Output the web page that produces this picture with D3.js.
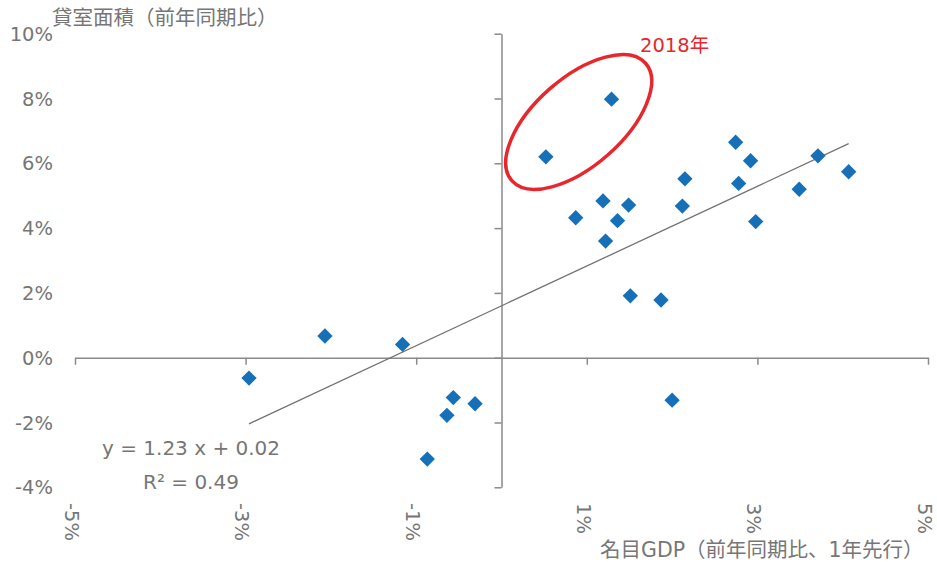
<!DOCTYPE html>
<html>
<head>
<meta charset="utf-8">
<script src="https://cdn.jsdelivr.net/npm/d3@7"></script>
<style>
  html, body { margin: 0; padding: 0; background: #fff; }
  svg { display: block; }
  text { font-family: "DejaVu Sans", "Noto Sans CJK JP", sans-serif; }
</style>
</head>
<body>
<svg id="chart" width="937" height="565"></svg>
<script>
// Nominal GDP growth (YoY, led by one year) vs. leased floor area growth (YoY)
const gdpGrowth = [
  -0.0207, -0.0116, -0.0296, -0.00565, -0.0031, -0.0064, -0.0087,
  0.0129, 0.0052, 0.02745, 0.0292, 0.0371, 0.0407, 0.0215, 0.0278,
  0.0349, 0.0119, 0.0149, 0.0212, 0.0087, 0.0136, 0.0298, 0.0122,
  0.0151, 0.0187, 0.0200
];
const floorAreaGrowth = [
  0.0067, 0.0041, -0.0063, -0.0123, -0.0142, -0.0178, -0.0313,
  0.0798, 0.0620, 0.0665, 0.0608, 0.0623, 0.0574, 0.0552, 0.0538,
  0.0520, 0.0484, 0.0471, 0.0468, 0.0432, 0.0423, 0.0420, 0.0360,
  0.0191, 0.0178, -0.0131
];
// Points highlighted as the 2018 group
const highlight2018 = [7, 8];

const xTicks = [-0.05, -0.03, -0.01, 0.01, 0.03, 0.05];
const yTicks = [-0.04, -0.02, 0, 0.02, 0.04, 0.06, 0.08, 0.10];

// Linear trend fitted to the scatter
const trendSlope = 1.23;
const trendIntercept = 0.016;
const trendR2 = 0.49;

const yTitle = "貸室面積（前年同期比）";
const xTitle = "名目GDP（前年同期比、1年先行）";
const groupLabel = "2018年";

const svg = d3.select("#chart");

const x = d3.scaleLinear().domain([-0.05, 0.05]).range([75, 928]);
const y = d3.scaleLinear().domain([-0.04, 0.10]).range([487.3, 33.7]);

const axisColor = "#8a8a8a";
const textColor = "#767676";
// Percent labels with a plain hyphen for negatives
const pct = d => `${Math.round(d * 100)}%`;

// Horizontal axis through y = 0
const xAxis = svg.append("g")
  .attr("transform", `translate(0,${y(0)})`)
  .call(d3.axisBottom(x).tickValues(xTicks).tickSize(7).tickSizeOuter(0).tickFormat(""));
xAxis.select(".domain").attr("stroke", axisColor).attr("stroke-width", 1.5);
xAxis.selectAll(".tick line").attr("stroke", axisColor).attr("stroke-width", 1.5);

// Vertical axis through x = 0
const yAxis = svg.append("g")
  .attr("transform", `translate(${x(0)},0)`)
  .call(d3.axisLeft(y).tickValues(yTicks).tickSize(7).tickSizeOuter(0).tickFormat(""));
yAxis.select(".domain").attr("stroke", axisColor).attr("stroke-width", 1.5);
yAxis.selectAll(".tick line").attr("stroke", axisColor).attr("stroke-width", 1.5);

// Y tick labels at the left edge
svg.append("g").selectAll("text")
  .data(yTicks)
  .join("text")
  .attr("x", 53)
  .attr("y", d => y(d))
  .attr("dy", "0.36em")
  .attr("text-anchor", "end")
  .attr("font-size", 19.5)
  .attr("fill", textColor)
  .text(d => pct(d));

// X tick labels, rotated, below the plot
svg.append("g").selectAll("text")
  .data(xTicks)
  .join("text")
  .attr("transform", d => `translate(${x(d)},503) rotate(90)`)
  .attr("dy", "0.52em")
  .attr("text-anchor", "start")
  .attr("font-size", 19.5)
  .attr("fill", textColor)
  .text(d => pct(d));

// Axis titles
svg.append("text")
  .attr("x", 52).attr("y", 18).attr("dy", "0.36em")
  .attr("font-size", 20.5)
  .attr("fill", textColor)
  .text(yTitle);

svg.append("text")
  .attr("x", 600).attr("y", 550).attr("dy", "0.36em")
  .attr("font-size", 20.5)
  .attr("fill", textColor)
  .text(xTitle);

// Trend line spanning the data range
const xExtent = d3.extent(gdpGrowth);
svg.append("line")
  .attr("x1", x(xExtent[0])).attr("y1", y(trendSlope * xExtent[0] + trendIntercept))
  .attr("x2", x(xExtent[1])).attr("y2", y(trendSlope * xExtent[1] + trendIntercept))
  .attr("stroke", "#727272")
  .attr("stroke-width", 1.3);

// Data points as diamonds
const points = gdpGrowth.map((g, i) => ({ g, f: floorAreaGrowth[i], i }));
svg.append("g").selectAll("path")
  .data(points)
  .join("path")
  .attr("transform", d => `translate(${x(d.g)},${y(d.f)})`)
  .attr("d", d3.symbol().type(d3.symbolDiamond2).size(150))
  .attr("fill", "#1670b8");

// Ellipse around the 2018 group
const hp = highlight2018.map(i => points[i]);
const cx = d3.mean(hp, d => x(d.g));
const cy = d3.mean(hp, d => y(d.f));
const ang = Math.atan2(y(hp[0].f) - y(hp[1].f), x(hp[0].g) - x(hp[1].g)) * 180 / Math.PI;
svg.append("ellipse")
  .attr("transform", `translate(${cx},${cy - 6}) rotate(${ang})`)
  .attr("rx", 89).attr("ry", 44)
  .attr("fill", "none")
  .attr("stroke", "#e8272c")
  .attr("stroke-width", 3.5);

svg.append("text")
  .attr("x", 640).attr("y", 45).attr("dy", "0.36em")
  .attr("font-size", 19.5)
  .attr("fill", "#e8272c")
  .text(groupLabel);

// Regression equation and R²
const f2 = d3.format(".2f");
svg.append("text")
  .attr("x", 102).attr("y", 448).attr("dy", "0.36em")
  .attr("font-size", 20)
  .attr("fill", textColor)
  .text(`y = ${f2(trendSlope)} x + ${f2(trendIntercept)}`);
svg.append("text")
  .attr("x", 143).attr("y", 482).attr("dy", "0.36em")
  .attr("font-size", 20)
  .attr("fill", textColor)
  .text(`R² = ${f2(trendR2)}`);
</script>
</body>
</html>
